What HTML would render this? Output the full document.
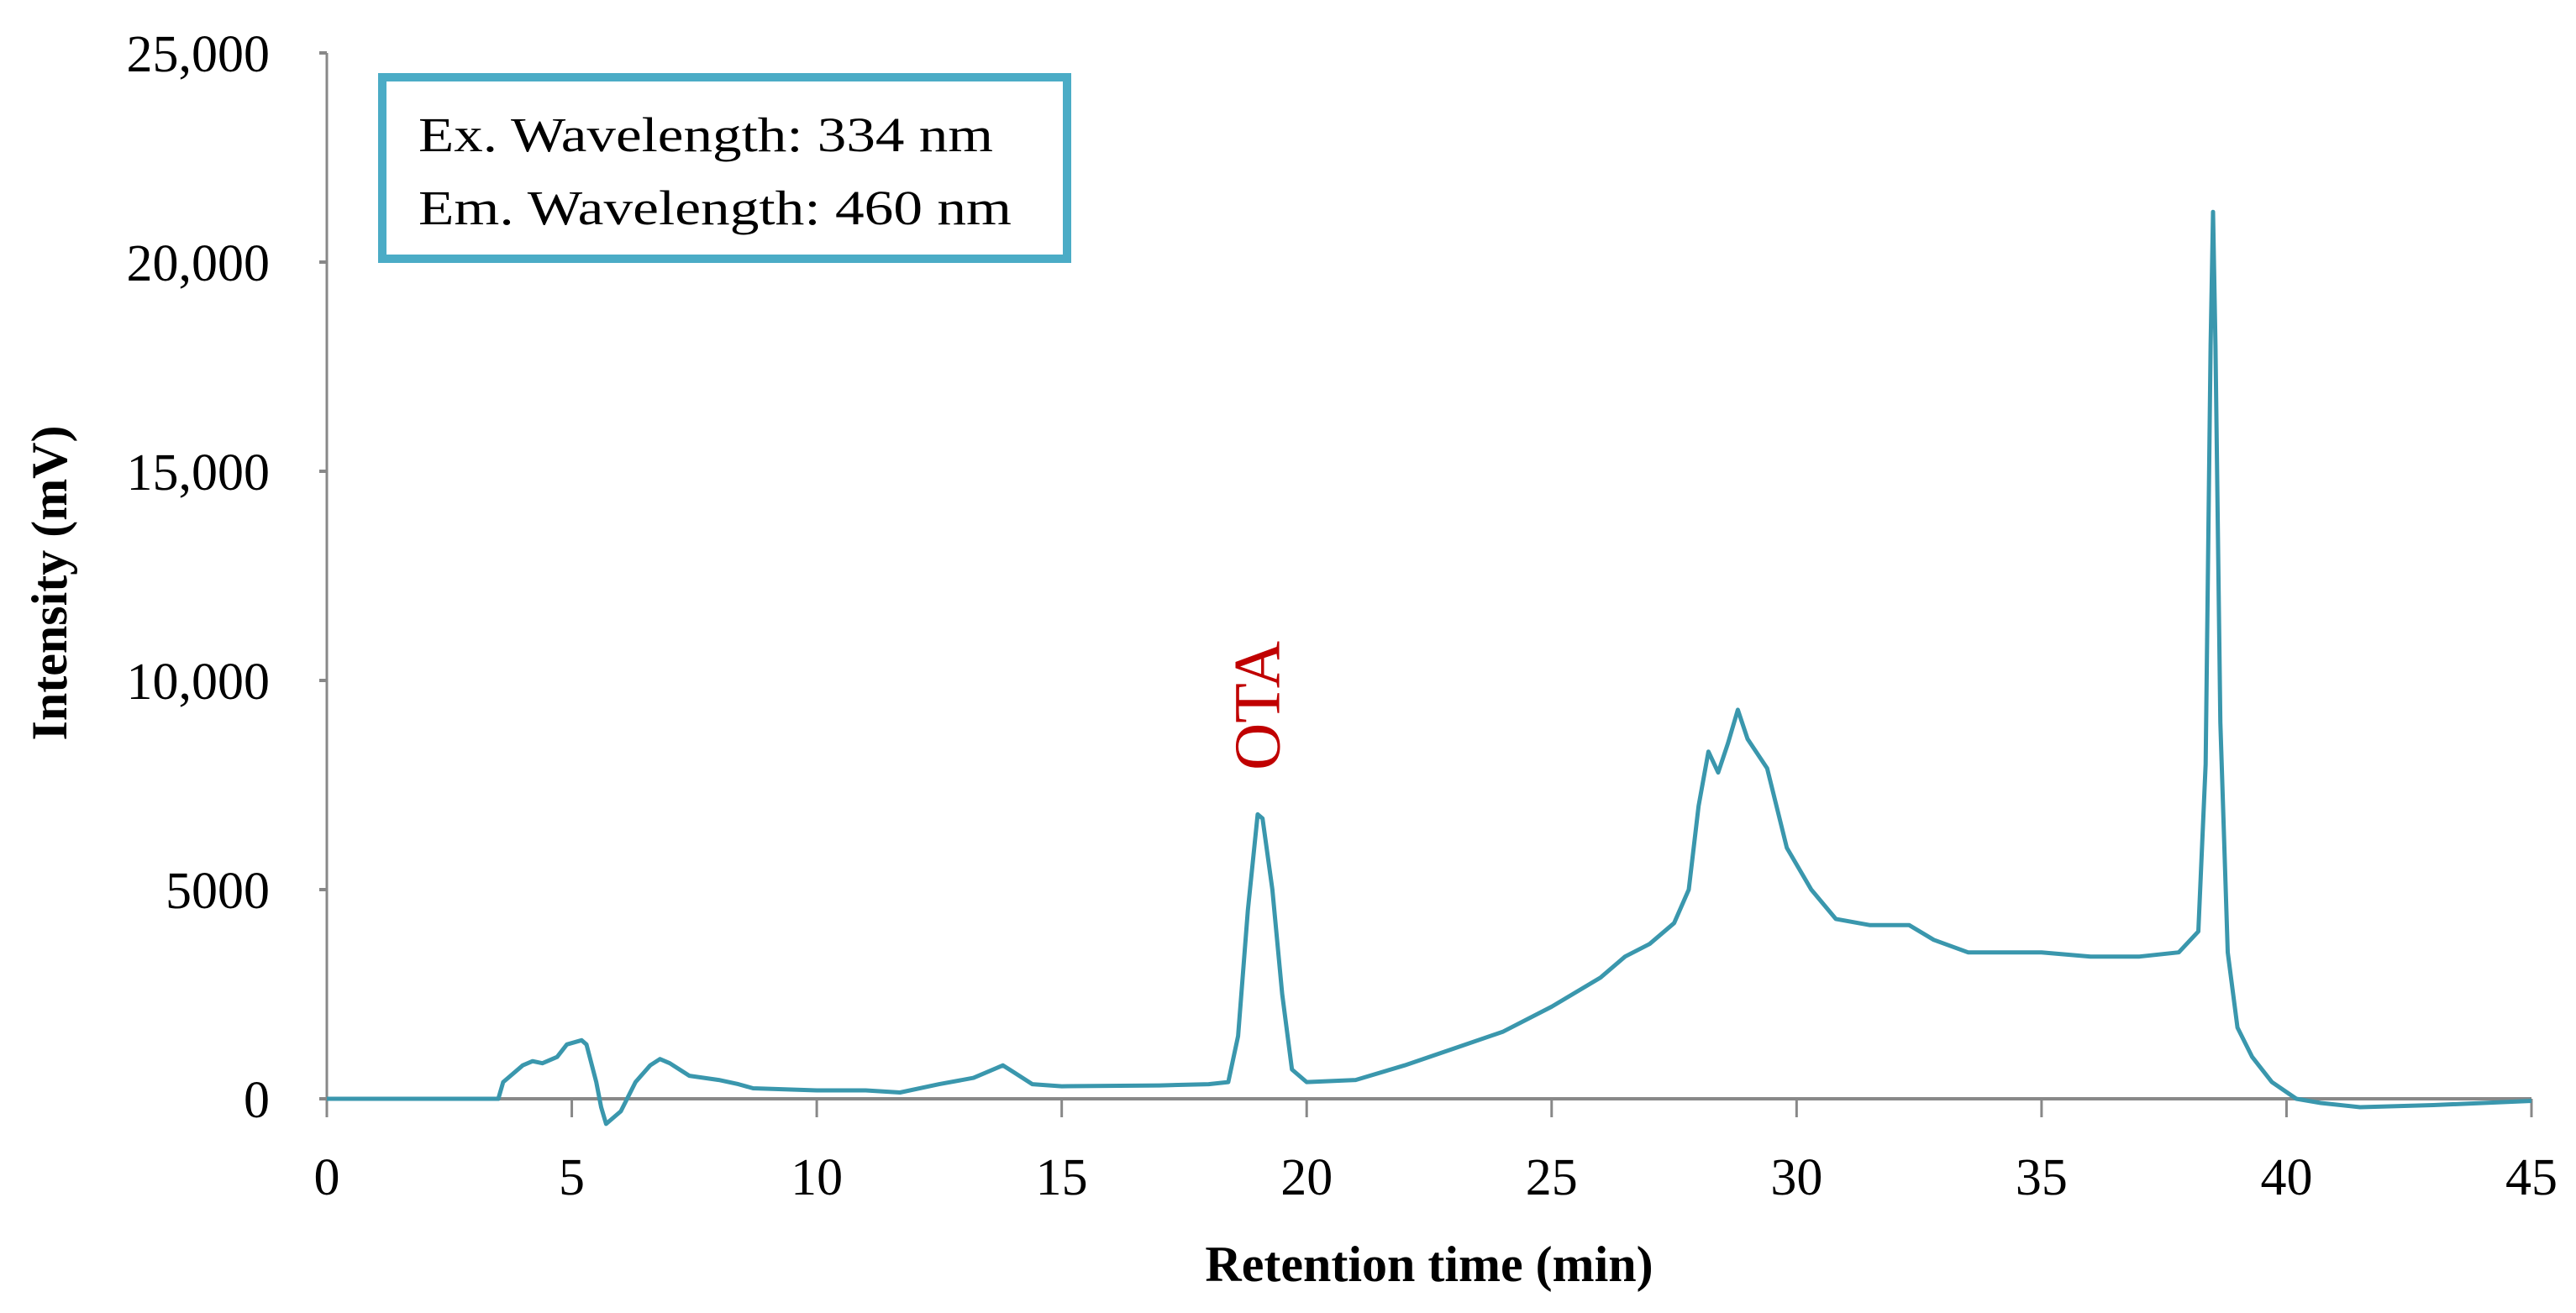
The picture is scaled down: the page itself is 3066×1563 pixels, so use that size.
<!DOCTYPE html>
<html><head><meta charset="utf-8"><style>
html,body{margin:0;padding:0;background:#fff;}
svg{display:block;}
text{font-family:"Liberation Serif",serif;}
</style></head><body>
<svg id="chart" width="3066" height="1563" viewBox="0 0 3066 1563">
<g id="axes"></g>
<path id="trace" fill="none" stroke="#3a97ad" stroke-width="5" stroke-linejoin="round"/>
<text x="1496" y="840" transform="rotate(-90 1496 840)" text-anchor="middle" dominant-baseline="central" font-size="78" fill="#c00000">OTA</text>
<rect x="455" y="92" width="815" height="216" fill="#fff" stroke="#4bacc6" stroke-width="10"/>
<text x="498" y="180" font-size="58" textLength="684" lengthAdjust="spacingAndGlyphs">Ex. Wavelength: 334 nm</text>
<text x="498" y="267" font-size="58" textLength="706" lengthAdjust="spacingAndGlyphs">Em. Wavelength: 460 nm</text>
<text x="1701" y="1525" text-anchor="middle" font-size="60" font-weight="bold">Retention time (min)</text>
<text x="59" y="694" transform="rotate(-90 59 694)" text-anchor="middle" dominant-baseline="central" font-size="60" font-weight="bold">Intensity (mV)</text>
</svg>
<script>
const times = [0,3.5,3.6,4,4.2,4.4,4.7,4.9,5.2,5.3,5.5,5.6,5.7,6.0,6.3,6.6,6.8,7.0,7.4,8.0,8.4,8.7,10,11,11.7,12.5,13.2,13.8,14.0,14.4,15,17,18,18.4,18.6,18.8,19.0,19.1,19.3,19.5,19.7,20,21,22,23,24,25,26,26.5,27,27.5,27.8,28.0,28.2,28.4,28.6,28.8,29.0,29.4,29.8,30.3,30.8,31.5,32.3,32.8,33.5,35,36,37,37.8,38.2,38.35,38.45,38.5,38.55,38.65,38.8,39,39.3,39.7,40.2,40.7,41.5,43,45];
const intensities = [0,0,400,800,900,850,1000,1300,1400,1300,400,-200,-600,-300,400,800,950,850,550,450,350,250,200,200,150,350,500,800,650,350,300,320,350,400,1500,4500,6800,6700,5000,2500,700,400,450,800,1200,1600,2200,2900,3400,3700,4200,5000,7000,8300,7800,8500,9300,8600,7900,6000,5000,4300,4150,4150,3800,3500,3500,3400,3400,3500,4000,8000,18000,21200,18000,9000,3500,1700,1000,400,0,-100,-200,-150,-50];
const xTicks = [0,5,10,15,20,25,30,35,40,45];
const yTicks = [0,5000,10000,15000,20000,25000];
const yTickLabels = ["0","5000","10,000","15,000","20,000","25,000"];

const X0=389, X1=3013, Y0=1308, Y1=63;
function xs(t){return X0+(t-0)/(45-0)*(X1-X0);}
function ys(v){return Y0-(v-0)/(25000-0)*(Y0-Y1);}
const NS="http://www.w3.org/2000/svg";
const axes=document.getElementById('axes');
function mk(tag,attrs,parent){const e=document.createElementNS(NS,tag);for(const k in attrs)e.setAttribute(k,attrs[k]);(parent||axes).appendChild(e);return e;}

let yl=mk('line',{x1:X0,y1:Y1,x2:X0,y2:Y0,stroke:'#888','stroke-width':3});


yTicks.forEach((v,i)=>{
  let tk=mk('line',{x1:X0-9,y1:ys(v),x2:X0,y2:ys(v),stroke:'#888','stroke-width':4});
  
  
  let tx=mk('text',{x:321,y:ys(v)+22,'text-anchor':'end','font-size':62});
  tx.textContent=yTickLabels[i];
  
  
});
let xl=mk('line',{x1:X0-9,y1:Y0,x2:X1,y2:Y0,stroke:'#888','stroke-width':4});


xTicks.forEach(t=>{
  let tk=mk('line',{x1:xs(t),y1:Y0,x2:xs(t),y2:Y0+22,stroke:'#888','stroke-width':3});
  
  
  let tx=mk('text',{x:xs(t),y:1422,'text-anchor':'middle','font-size':62});
  tx.textContent=String(t);
  
  
});
document.getElementById('trace').setAttribute('d',times.map((t,i)=>(i?'L':'M')+xs(t).toFixed(1)+' '+ys(intensities[i]).toFixed(1)).join(' '));
</script>
</body></html>
